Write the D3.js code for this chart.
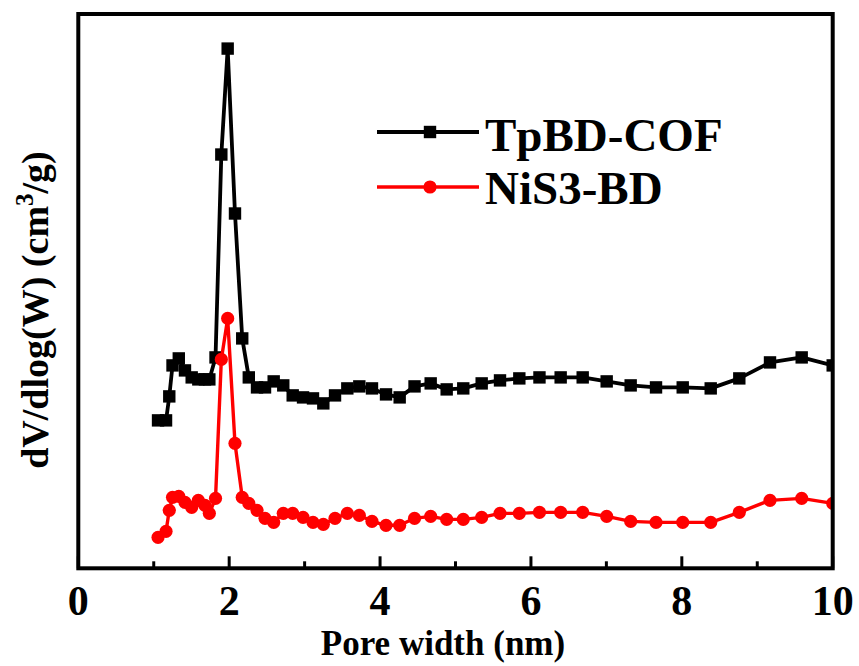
<!DOCTYPE html>
<html>
<head>
<meta charset="utf-8">
<script src="https://cdn.jsdelivr.net/npm/d3@7"></script>
<style>
  html, body { margin: 0; padding: 0; background: #fff; }
  svg { display: block; }
  text { font-family: "Liberation Serif", "Times New Roman", serif; font-weight: bold; fill: #000; }
</style>
</head>
<body>
<svg id="chart" width="859" height="666"></svg>
<script>
// Pore width (nm)
const poreWidth = [1.057, 1.163, 1.206, 1.249, 1.332, 1.414, 1.503, 1.591, 1.679, 1.737,
  1.819, 1.896, 1.98, 2.077, 2.173, 2.26, 2.369, 2.475, 2.59, 2.717,
  2.842, 2.979, 3.111, 3.248, 3.403, 3.566, 3.725, 3.893, 4.079, 4.26,
  4.457, 4.671, 4.883, 5.103, 5.347, 5.59, 5.846, 6.113, 6.394, 6.686,
  7.004, 7.322, 7.658, 8.012, 8.383, 8.762, 9.169, 9.589, 10.0];

// dV/dlog(W) (cm3/g)
const tpbdCof = [0.074, 0.074, 0.086, 0.1015, 0.105, 0.099, 0.0955, 0.0945, 0.0945, 0.0945,
  0.1055, 0.207, 0.26, 0.1775, 0.115, 0.0955, 0.0905, 0.0905, 0.0935, 0.0915,
  0.0865, 0.0855, 0.085, 0.0825, 0.0865, 0.09, 0.091, 0.09, 0.087, 0.0855,
  0.091, 0.0925, 0.0895, 0.09, 0.0925, 0.094, 0.095, 0.0955, 0.0955, 0.0955,
  0.0935, 0.0915, 0.0905, 0.0905, 0.09, 0.095, 0.103, 0.1055, 0.1015];

const nis3Bd = [0.0155, 0.0185, 0.029, 0.0355, 0.036, 0.033, 0.0305, 0.034, 0.0315, 0.0275,
  0.035, 0.1045, 0.125, 0.0625, 0.0355, 0.0325, 0.029, 0.025, 0.023, 0.0275,
  0.0275, 0.0255, 0.023, 0.022, 0.025, 0.0275, 0.0265, 0.0235, 0.0215, 0.0215,
  0.025, 0.026, 0.0245, 0.0245, 0.0255, 0.0275, 0.0275, 0.028, 0.028, 0.028,
  0.026, 0.0235, 0.023, 0.023, 0.023, 0.028, 0.034, 0.035, 0.0325];

const seriesNames = ["TpBD-COF", "NiS3-BD"];
const xTickLabels = [0, 2, 4, 6, 8, 10];
const xMinorTicks = [1, 3, 5, 7, 9];

const svg = d3.select("#chart");
const plotLeft = 78.3, plotRight = 832.7, plotTop = 14, plotBottom = 568.3;

const x = d3.scaleLinear().domain([0, 10]).range([plotLeft, plotRight]);
const y = d3.scaleLinear().domain([0, 0.2773]).range([plotBottom, plotTop]);

svg.append("defs").append("clipPath").attr("id", "plotClip")
  .append("rect").attr("x", plotLeft).attr("y", plotTop)
  .attr("width", plotRight - plotLeft).attr("height", plotBottom - plotTop);

const series = [
  { name: seriesNames[0], values: tpbdCof, color: "#000000", marker: "square" },
  { name: seriesNames[1], values: nis3Bd, color: "#ff0000", marker: "circle" }
];

const line = d3.line().x(d => x(d[0])).y(d => y(d[1]));
const plot = svg.append("g").attr("clip-path", "url(#plotClip)");

function drawMarker(g, type, color) {
  if (type === "square") {
    g.append("rect").attr("x", -6.2).attr("y", -6.2).attr("width", 12.4).attr("height", 12.4).attr("fill", color);
  } else {
    g.append("circle").attr("r", 6.6).attr("fill", color);
  }
}

series.forEach(s => {
  const pts = poreWidth.map((w, i) => [w, s.values[i]]);
  plot.append("path").datum(pts)
    .attr("fill", "none").attr("stroke", s.color)
    .attr("stroke-width", s.marker === "square" ? 3.8 : 3.4)
    .attr("stroke-linejoin", "round")
    .attr("d", line);
  plot.selectAll(null).data(pts).enter().append("g")
    .attr("transform", d => `translate(${x(d[0])},${y(d[1])})`)
    .each(function () { drawMarker(d3.select(this), s.marker, s.color); });
});

// Bottom axis: inward ticks, labels below
const axisG = svg.append("g");
axisG.selectAll("line.major").data(xTickLabels).enter().append("line")
  .attr("x1", d => x(d)).attr("x2", d => x(d))
  .attr("y1", plotBottom).attr("y2", plotBottom - 12)
  .attr("stroke", "#000").attr("stroke-width", 3);
axisG.selectAll("line.minor").data(xMinorTicks).enter().append("line")
  .attr("x1", d => x(d)).attr("x2", d => x(d))
  .attr("y1", plotBottom).attr("y2", plotBottom - 7)
  .attr("stroke", "#000").attr("stroke-width", 3);
axisG.selectAll("text.tick").data(xTickLabels).enter().append("text")
  .attr("x", d => x(d)).attr("y", 615)
  .attr("text-anchor", "middle")
  .attr("font-size", 42)
  .text(d => d);

// Frame
svg.append("rect")
  .attr("x", plotLeft).attr("y", plotTop)
  .attr("width", plotRight - plotLeft).attr("height", plotBottom - plotTop)
  .attr("fill", "none").attr("stroke", "#000").attr("stroke-width", 4);

// Axis titles
svg.append("text")
  .attr("x", 443).attr("y", 655)
  .attr("text-anchor", "middle")
  .attr("font-size", 35)
  .text("Pore width (nm)");

const yTitle = svg.append("text")
  .attr("transform", `translate(48,310) rotate(-90)`)
  .attr("text-anchor", "middle")
  .attr("font-size", 38);
yTitle.append("tspan").text("dV/dlog(W) (cm");
yTitle.append("tspan").attr("font-size", 25).attr("dy", -15).text("3");
yTitle.append("tspan").attr("dy", 15).text("/g)");

// Legend
const legendRows = [
  { s: series[0], ly: 132, ty: 151 },
  { s: series[1], ly: 187, ty: 204 }
];
legendRows.forEach(r => {
  const g = svg.append("g");
  g.append("line").attr("x1", 377).attr("x2", 479)
    .attr("y1", r.ly).attr("y2", r.ly)
    .attr("stroke", r.s.color).attr("stroke-width", r.s.marker === "square" ? 3.8 : 3.4);
  const m = g.append("g").attr("transform", `translate(430,${r.ly})`);
  drawMarker(m, r.s.marker, r.s.color);
  g.append("text").attr("x", 485).attr("y", r.ty)
    .attr("font-size", 47)
    .text(r.s.name);
});
</script>
</body>
</html>
